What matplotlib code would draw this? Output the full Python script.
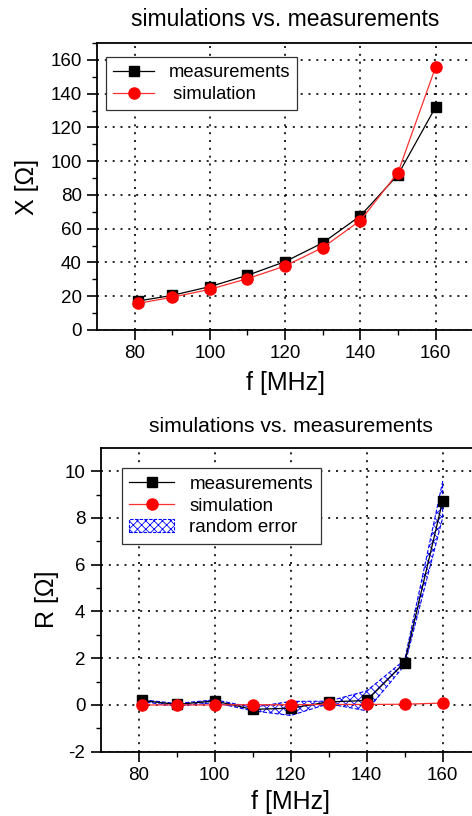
import numpy as np
import matplotlib
matplotlib.use("Agg")
import matplotlib.pyplot as plt

plt.rcParams['font.family'] = ['Liberation Sans', 'DejaVu Sans']
plt.rcParams['hatch.linewidth'] = 0.6
plt.rcParams['axes.unicode_minus'] = False

# frequencies [MHz]
freq = [81, 90, 100, 110, 120, 130, 140, 150, 160]

# reactance X [Ohm]
x_meas = [17.2, 20.5, 25.7, 32.4, 40.5, 51.6, 67.6, 91.9, 132.0]
x_sim = [15.8, 19.4, 24.1, 30.4, 37.9, 48.8, 64.8, 93.2, 155.7]

# resistance R [Ohm]
r_meas = [0.19, 0.02, 0.17, -0.19, -0.14, 0.13, 0.19, 1.81, 8.73]
r_sim = [0.0, 0.0, 0.0, 0.01, 0.01, 0.02, 0.02, 0.03, 0.08]
r_err_lo = [0.14, -0.05, 0.10, -0.25, -0.45, 0.05, -0.25, 1.70, 8.0]
r_err_hi = [0.22, 0.06, 0.22, -0.10, 0.15, 0.16, 0.60, 1.92, 9.55]

fig = plt.figure(figsize=(4.72, 8.16), dpi=100)

def style_axes(ax, ylim, ymajor, yminor):
    ax.set_xlim(70, 170)
    ax.set_ylim(*ylim)
    ax.set_xticks([80, 100, 120, 140, 160])
    ax.set_xticks([90, 110, 130, 150], minor=True)
    ax.set_yticks(ymajor)
    ax.set_yticks(yminor, minor=True)
    ax.tick_params(which='major', direction='out', length=7, width=1.2, labelsize=13.5, pad=4)
    ax.tick_params(which='minor', direction='out', length=3.5, width=1.0)
    ax.tick_params(top=False, right=False)
    for s in ax.spines.values():
        s.set_linewidth(1.3)
    ax.grid(True, which='major', color='black', linestyle=(0, (1.2, 3.5)), linewidth=1.2)
    ax.set_axisbelow(True)

# ---- top: reactance
ax1 = fig.add_axes([0.2055, 0.5956, 0.797, 0.3517])
ax1.plot(freq, x_meas, color='black', lw=0.9, marker='s', ms=7.5, label='measurements', zorder=3)
ax1.plot(freq, x_sim, color='#ff3030', lw=0.9, marker='o', ms=8, mfc='red', mec='red',
         label=' simulation', zorder=4)
style_axes(ax1, (0, 170), np.arange(0, 161, 20), np.arange(10, 171, 20))
ax1.set_title('simulations vs. measurements', fontsize=16.5, pad=12)
ax1.set_xlabel('f [MHz]', fontsize=18, labelpad=6)
ax1.set_ylabel('X [Ω]', fontsize=18, labelpad=8)
leg1 = ax1.legend(loc='upper left', bbox_to_anchor=(0.024, 0.951), fontsize=13.2,
                  fancybox=False, edgecolor='#333333', framealpha=1, borderaxespad=0,
                  handlelength=2.2, borderpad=0.4, labelspacing=0.25)
leg1.get_frame().set_linewidth(0.9)

# ---- bottom: resistance
ax2 = fig.add_axes([0.2133, 0.0788, 0.805, 0.3725])
ax2.fill_between(freq, r_err_lo, r_err_hi, facecolor='none', edgecolor='blue',
                 hatch='xxxx', linewidth=0.8, linestyle='--', label='random error', zorder=2)
ax2.plot(freq, r_meas, color='black', lw=0.9, marker='s', ms=7.5, label='measurements', zorder=3)
ax2.plot(freq, r_sim, color='#ff3030', lw=0.9, marker='o', ms=8, mfc='red', mec='red',
         label='simulation', zorder=4)
style_axes(ax2, (-2, 11), np.arange(-2, 11, 2), np.arange(-1, 11, 2))
ax2.set_title('simulations vs. measurements', fontsize=15.2, pad=11)
ax2.set_xlabel('f [MHz]', fontsize=18, labelpad=4)
ax2.set_ylabel('R [Ω]', fontsize=18, labelpad=4)
h, l = ax2.get_legend_handles_labels()
order = [1, 2, 0]
leg2 = ax2.legend([h[i] for i in order], [l[i] for i in order], loc='upper left',
                  bbox_to_anchor=(0.056, 0.933), fontsize=13.5,
                  fancybox=False, edgecolor='#333333', framealpha=1, borderaxespad=0,
                  handlelength=2.4, borderpad=0.4, labelspacing=0.25)
leg2.get_frame().set_linewidth(0.9)

fig.savefig('out.png', dpi=100)
